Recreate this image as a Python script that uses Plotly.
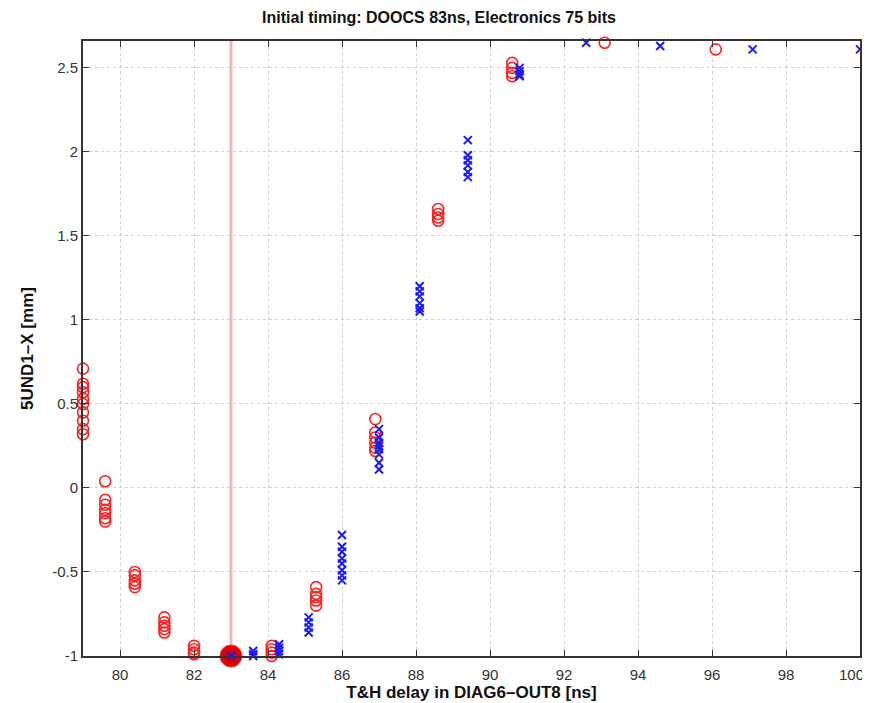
import plotly.graph_objects as go

# Red circles (DOOCS scan)
red_x = ([79.0]*10 + [79.6]*7 + [80.4]*5 + [81.2]*5 + [82.0]*4 + [84.1]*4 +
         [85.3]*5 + [86.9]*6 + [88.6]*4 + [90.6]*4 + [93.1] + [96.1])
red_y = ([0.71, 0.62, 0.60, 0.57, 0.53, 0.50, 0.45, 0.40, 0.35, 0.32] +
         [0.04, -0.07, -0.10, -0.13, -0.15, -0.18, -0.20] +
         [-0.50, -0.52, -0.55, -0.57, -0.59] +
         [-0.77, -0.80, -0.82, -0.84, -0.86] +
         [-0.94, -0.96, -0.98, -0.99] +
         [-0.94, -0.96, -0.98, -1.00] +
         [-0.59, -0.63, -0.65, -0.67, -0.70] +
         [0.41, 0.33, 0.30, 0.27, 0.24, 0.22] +
         [1.66, 1.63, 1.61, 1.59] +
         [2.53, 2.50, 2.47, 2.45] +
         [2.65] + [2.61])

# Blue crosses (electronics scan)
blue_x = ([83.0] + [83.6]*3 + [84.3]*4 + [85.1]*4 + [86.0]*8 + [87.0]*8 +
          [88.1]*6 + [89.4]*6 + [90.8]*4 + [92.6] + [94.6] + [97.1] + [100.0])
blue_y = ([-1.00] +
          [-0.97, -0.99, -1.00] +
          [-0.93, -0.95, -0.97, -0.99] +
          [-0.77, -0.80, -0.83, -0.86] +
          [-0.28, -0.35, -0.38, -0.42, -0.45, -0.49, -0.52, -0.55] +
          [0.35, 0.30, 0.27, 0.25, 0.23, 0.20, 0.15, 0.11] +
          [1.20, 1.17, 1.14, 1.10, 1.07, 1.05] +
          [2.07, 1.98, 1.95, 1.92, 1.88, 1.85] +
          [2.50, 2.48, 2.46, 2.45] +
          [2.65] + [2.63] + [2.61] + [2.61])

initial_x = [83.0]
initial_y = [-1.0]

x_ticks = [80, 82, 84, 86, 88, 90, 92, 94, 96, 98, 100]
y_ticks = [-1, -0.5, 0, 0.5, 1, 1.5, 2, 2.5]
y_tick_text = ["-1", "-0.5", "0", "0.5", "1", "1.5", "2", "2.5"]

FONT = "Liberation Sans, Arial, sans-serif"

fig = go.Figure()

fig.add_trace(go.Scatter(x=[initial_x[0], initial_x[0]], y=[-1.0, 2.66], mode="lines",
                         line=dict(color="rgba(240,130,130,0.6)", width=3),
                         showlegend=False, hoverinfo="skip"))

fig.add_trace(go.Scatter(x=red_x, y=red_y, mode="markers",
                         marker=dict(symbol="circle-open", size=11, color="#ff2020",
                                     line=dict(width=1.6, color="#ff2020")),
                         showlegend=False, cliponaxis=False))

fig.add_trace(go.Scatter(x=initial_x, y=initial_y, mode="markers",
                         marker=dict(symbol="circle", size=22, color="#e00000",
                                     line=dict(width=1, color="#ff3030")),
                         showlegend=False, cliponaxis=False))

fig.add_trace(go.Scatter(x=blue_x, y=blue_y, mode="markers",
                         marker=dict(symbol="x-thin", size=8, color="#1a1aff",
                                     line=dict(width=2, color="#1a1aff")),
                         showlegend=False, cliponaxis=False))

axis_common = dict(showline=True, linecolor="#333", linewidth=2, mirror="ticks",
                   ticks="inside", ticklen=6, tickcolor="#333",
                   showgrid=True, gridcolor="#cfcfcf", griddash="dot", gridwidth=1,
                   zeroline=False, automargin=False,
                   tickfont=dict(family=FONT, size=15, color="#333"))

fig.update_xaxes(range=[79, 100], tickvals=x_ticks, ticklabelstandoff=4, **axis_common,
                 title=dict(text="<b>T&H delay in DIAG6\u2013OUT8 [ns]</b>", standoff=4,
                            font=dict(family=FONT, size=17, color="#111")))
fig.update_yaxes(range=[-1, 2.66], tickvals=y_ticks, ticktext=y_tick_text, **axis_common,
                 title=dict(text="<b>5UND1\u2013X [mm]</b>", standoff=14,
                            font=dict(family=FONT, size=17, color="#111")))

# last x tick label, which would run past the right edge of the figure
fig.add_annotation(x=x_ticks[-1], xref="x", y=0, yref="paper", yanchor="top",
                   xanchor="right", xshift=6, yshift=-8, text=str(x_ticks[-1]),
                   showarrow=False, font=dict(family=FONT, size=15, color="#333"))

fig.update_layout(
    width=862, height=695,
    paper_bgcolor="white", plot_bgcolor="white",
    margin=dict(l=75, r=10, t=33, b=47),
    title=dict(text="<b>Initial timing: DOOCS 83ns, Electronics 75 bits</b>",
               x=0.5, xanchor="center", y=0.987, yanchor="middle",
               font=dict(family=FONT, size=16, color="#111")),
)

fig.write_html("out.html")
